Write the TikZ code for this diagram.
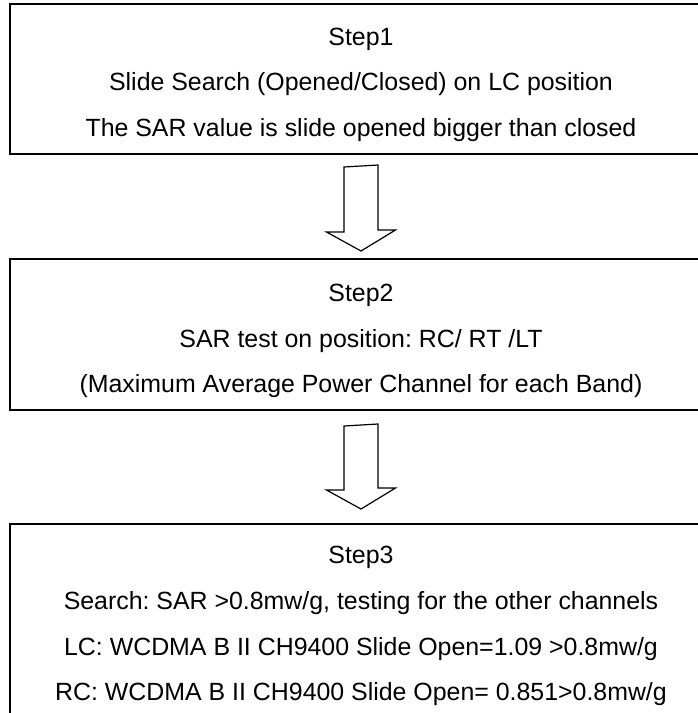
\documentclass[tikz,border=0pt]{standalone}
\usepackage{fontspec}
\setmainfont{Liberation Sans}
\usetikzlibrary{positioning}
\frenchspacing

\tikzset{
  stepbox/.style={draw, line width=2pt, rectangle, inner sep=0pt, minimum width=702pt, anchor=north west},
  steptext/.style={anchor=base, inner sep=0pt, font=\fontsize{24.9pt}{30pt}\selectfont},
  hollowarrow/.style={draw, line width=1.2pt, line join=miter},
}

\begin{document}
\begin{tikzpicture}[x=1pt, y=1pt]
  \useasboundingbox (0,0) rectangle (698,-713);
  \clip (0,0) rectangle (698,-713);

  \node[stepbox, minimum height=150pt] (box1) at (9,-3) {};
  \node[stepbox, minimum height=151pt] (box2) at (9,-258) {};
  \node[stepbox, minimum height=260pt] (box3) at (9,-523) {};

  % step 1
  \node[steptext] (step1) at ([yshift=-42pt]box1.north) {Step1};
  \node[steptext] (search1) at ([yshift=-87.5pt]box1.north) {Slide Search (Opened/Closed) on LC position};
  \node[steptext] (note1) at ([yshift=-133pt]box1.north) {The SAR value is slide opened bigger than closed};

  % step 2
  \node[steptext] (step2) at ([yshift=-43pt]box2.north) {Step2};
  \node[steptext] (test2) at ([yshift=-89pt]box2.north) {SAR test on position: RC/ RT /LT};
  \node[steptext] (note2) at ([yshift=-134pt]box2.north) {(Maximum Average Power Channel for each Band)};

  % step 3
  \node[steptext] (step3) at ([yshift=-40pt]box3.north) {Step3};
  \node[steptext] (search3) at ([yshift=-86pt]box3.north) {Search: SAR >0.8mw/g, testing for the other channels};
  \node[steptext] (lc3) at ([yshift=-132pt]box3.north) {LC: WCDMA B II CH9400 Slide Open=1.09 >0.8mw/g};
  \node[steptext] (rc3) at ([yshift=-177pt]box3.north) {RC: WCDMA B II CH9400 Slide Open= 0.851>0.8mw/g};

  % arrows
  \coordinate (arr1) at ([yshift=-12pt]box1.south);
  \draw[hollowarrow] (arr1) ++(-17,0) -- ++(0,-65) -- ++(-17.5,0)
    -- ([yshift=7pt]box2.north) -- ++(34.5,21) -- ++(-17.5,0) -- ++(0,65) -- cycle;

  \coordinate (arr2) at ([yshift=-15pt]box2.south);
  \draw[hollowarrow] (arr2) ++(-17,0) -- ++(0,-64) -- ++(-17.5,0)
    -- ([yshift=14pt]box3.north) -- ++(34.5,21) -- ++(-17.5,0) -- ++(0,64) -- cycle;
\end{tikzpicture}
\end{document}
